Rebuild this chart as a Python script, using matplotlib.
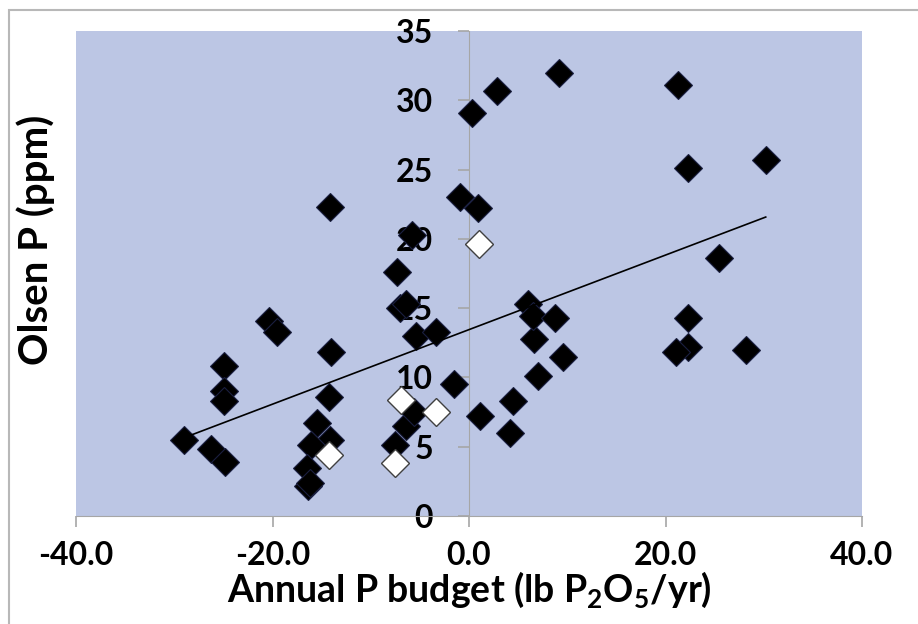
import numpy as np
import matplotlib
matplotlib.use("Agg")
from matplotlib import pyplot as plt
from matplotlib.patches import Rectangle

# black diamonds: budget (lb P2O5/yr), Olsen P (ppm)
black_x = [-29.0, -26.3, -24.8, -24.9, -24.9, -24.9, -20.4, -19.5, -14.1, -14.0,
           -14.3, -15.5, -14.1, -16.1, -16.5, -16.4, -16.2, -7.3, -7.0, -6.4,
           -5.4, -3.4, -5.8, -7.5, -6.4, -5.6, -1.5, -0.9, 0.3, 2.8,
           0.9, 9.2, 1.1, 4.2, 4.5, 7.0, 6.6, 6.0, 6.5, 8.8,
           9.6, 21.3, 22.3, 30.2, 25.4, 22.3, 22.3, 21.1, 28.2]
black_y = [5.5, 4.8, 3.9, 10.8, 9.0, 8.3, 14.1, 13.3, 22.3, 11.8,
           8.6, 6.7, 5.5, 5.1, 3.5, 2.2, 2.4, 17.6, 15.0, 15.3,
           13.0, 13.3, 20.3, 5.1, 6.5, 7.5, 9.5, 23.0, 29.1, 30.7,
           22.2, 32.0, 7.2, 6.0, 8.3, 10.1, 12.8, 15.3, 14.4, 14.3,
           11.5, 31.1, 25.1, 25.7, 18.6, 14.3, 12.2, 11.8, 12.0]

# white diamonds
white_x = [-14.3, -6.9, -7.5, -3.4, 1.0]
white_y = [4.4, 8.4, 3.8, 7.5, 19.6]

# linear trend line (slope, intercept)
trend_slope = 0.269
trend_intercept = 13.45

x_ticks = [-40, -20, 0, 20, 40]
y_ticks = [0, 5, 10, 15, 20, 25, 30, 35]

plt.rcParams['font.family'] = ['Lato', 'DejaVu Sans']
plt.rcParams['font.weight'] = 'bold'
plt.rcParams['mathtext.default'] = 'regular'

fig = plt.figure(figsize=(9.18, 6.24), dpi=100)
fig.patches.append(Rectangle((9 / 918, -0.05), 1.1, (624 - 10) / 624 + 0.05,
                             transform=fig.transFigure, fill=False,
                             edgecolor='#b8b8b8', linewidth=1.5))
ax = fig.add_axes([76 / 918, (624 - 516) / 624, 786 / 918, 485 / 624])
ax.set_facecolor('#bcc6e4')

ax.plot(black_x, black_y, 'D', color='black', markersize=14, markeredgecolor='#1a1f40',
        markeredgewidth=0.8, zorder=3)
ax.plot(white_x, white_y, 'D', color='white', markersize=14, markeredgecolor='#404040',
        markeredgewidth=1.0, zorder=3)

all_x = np.array(black_x + white_x)
fit_x = np.array([all_x.min(), all_x.max()])
ax.plot(fit_x, trend_slope * fit_x + trend_intercept, color='black', linewidth=1.2, zorder=4)

ax.set_xlim(-40, 40)
ax.set_ylim(0, 35)
ax.set_xticks(x_ticks)
ax.set_xticklabels([f"{v:.1f}" for v in x_ticks])
ax.set_yticks(y_ticks)

for s in ['top', 'right']:
    ax.spines[s].set_visible(False)
ax.spines['left'].set_position(('data', 0))
ax.spines['left'].set_color('#a6a6a6')
ax.spines['bottom'].set_color('#a6a6a6')
ax.tick_params(axis='both', colors='#a6a6a6', labelcolor='black', length=8, width=1.2,
               labelsize=23)
ax.tick_params(axis='x', pad=10)
ax.tick_params(axis='y', pad=18)

ax.set_xlabel('Annual P budget (lb P$_2$O$_5$/yr)', fontsize=27, fontweight='bold', labelpad=0)
fig.text(36 / 918, 0.615, 'Olsen P (ppm)', rotation=90, fontsize=29, fontweight='bold',
         ha='center', va='center')

fig.savefig('out.png', dpi=100)
